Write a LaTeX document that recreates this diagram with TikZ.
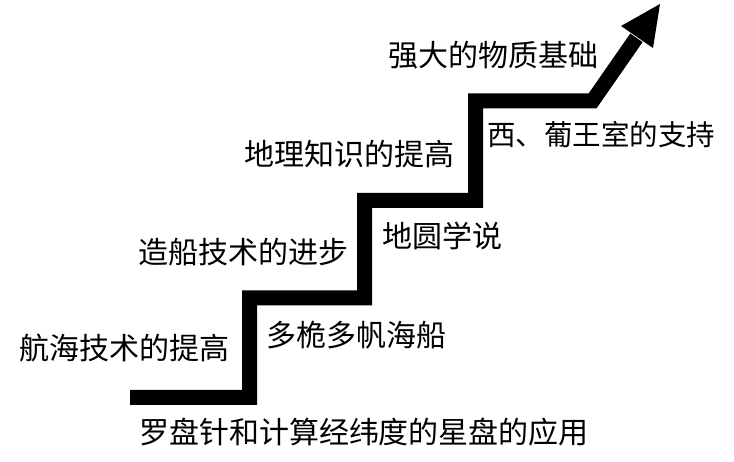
\documentclass[tikz,border=0pt]{standalone}
\usepackage{fontspec}
\usetikzlibrary{calc}
\newfontfamily\cjk{Noto Sans CJK SC}
\begin{document}
\begin{tikzpicture}[x=1pt,y=-1pt,
  lbl/.style={font=\cjk\fontsize{30}{30}\selectfont, inner sep=0pt, anchor=center,
              text height=0.88em, text depth=0.12em, yshift=-8pt},
  lblnarrow/.style={lbl, font=\cjk\fontsize{28.5}{30}\selectfont},
  stair/.style={line width=15pt, line join=miter, line cap=butt, black},
  head/.style={fill=black, draw=none}]
\useasboundingbox (0,0) rectangle (734,462);
% staircase
\coordinate (s0) at (130,397.5);
\coordinate (s1) at (249.5,397.5);
\coordinate (s2) at (249.5,298);
\coordinate (s3) at (364.5,298);
\coordinate (s4) at (364.5,200.5);
\coordinate (s5) at (475.5,200.5);
\coordinate (s6) at (475.5,101);
\coordinate (s7) at (592.5,101);
\coordinate (hb) at (637,37);
\coordinate (tip) at (660,4);
\coordinate (wl) at (621,26);
\coordinate (wr) at (653,48);
\draw[stair] (s0) -- (s1) -- (s2) -- (s3) -- (s4) -- (s5) -- (s6) -- (s7) -- ($(hb)!-1pt!(tip)$);
\fill[head] (wl) -- (tip) -- (wr) -- cycle;
% labels
\node[lbl] (t1) at (493.5,55) {强大的物质基础};
\node[lblnarrow] (t2) at (601,134) {西、葡王室的支持};
\node[lbl] (t3) at (349.5,153.5) {地理知识的提高};
\node[lbl] (t4) at (442.5,236) {地圆学说};
\node[lbl] (t5) at (243.5,252) {造船技术的进步};
\node[lbl] (t6) at (124.5,348) {航海技术的提高};
\node[lbl] (t7) at (356.5,334.5) {多桅多帆海船};
\node[lbl] (t8) at (364,432) {罗盘针和计算经纬度的星盘的应用};
\end{tikzpicture}
\end{document}
